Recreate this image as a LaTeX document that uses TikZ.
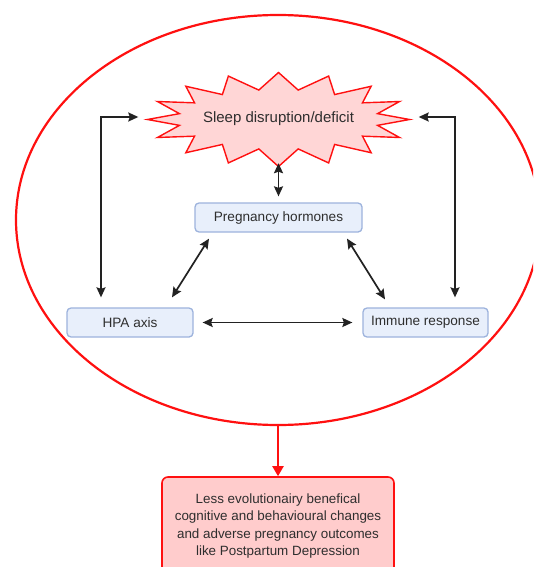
\documentclass[tikz,border=0pt]{standalone}
\usepackage{fontspec}
\setmainfont{Liberation Sans}
\usetikzlibrary{arrows.meta,shapes.geometric,calc}
\definecolor{txt}{HTML}{2E2E2E}
\definecolor{arr}{HTML}{222222}
\definecolor{bfill}{HTML}{E8EFFB}
\definecolor{bline}{HTML}{9DB3DD}
\definecolor{sfill}{HTML}{FFD6D6}
\definecolor{ofill}{HTML}{FFCCCC}
\definecolor{rline}{HTML}{FF1010}
\begin{document}
\begin{tikzpicture}[x=1pt,y=-1pt,
  bluebox/.style={draw=bline, fill=bfill, line width=1.3pt, rounded corners=4pt,
    minimum height=29pt, inner sep=0pt, text=txt, font=\fontsize{13.6}{16}\selectfont},
  outbox/.style={draw=rline, fill=ofill, line width=1.6pt, rounded corners=6pt,
    minimum width=232pt, minimum height=98pt, inner sep=0pt, align=center, text=txt,
    font=\fontsize{13.4}{17.5}\selectfont},
  dbl/.style={arr, line width=1.7pt, {Stealth[length=10pt,width=9pt,inset=1.5pt]}-{Stealth[length=10pt,width=9pt,inset=1.5pt]}},
  redarr/.style={rline, line width=2pt, -{Triangle[length=10pt,width=11pt]}}
]
\useasboundingbox (0,0) rectangle (533,567);
\clip (0,0) rectangle (533,567);
\fill[white] (0,0) rectangle (533,567);
% big ellipse
\node[ellipse, draw=rline, line width=2.2pt, minimum width=524pt, minimum height=410pt, inner sep=0pt] (big) at (278,220) {};
% starburst
\draw[rline, fill=sfill, line width=1.4pt, line join=miter]
  plot[samples=33, domain=0:32]
  ({278.5+(116+15*cos(\x*180))*cos(\x*11.25)}, {119.5+(38.5+8.5*cos(\x*180))*sin(\x*11.25)}) -- cycle;
\node[ellipse, minimum width=262pt, minimum height=94pt, inner sep=0pt, text=txt,
  font=\fontsize{15}{18}\selectfont] (sleep) at (278.5,119) {Sleep disruption/deficit};
% boxes
\node[bluebox, minimum width=167pt] (ph) at (278.5,217.5) {Pregnancy hormones};
\node[bluebox, minimum width=126pt] (hpa) at (130,322.5) {HPA axis};
\node[bluebox, minimum width=125pt] (imm) at (425.5,322.5) {Immune response};
\node[outbox] (out) at (278,526) {Less evolutionairy benefical\\cognitive and behavioural changes\\and adverse pregnancy outcomes\\like Postpartum Depression};
% connectors
\draw[dbl] ($(sleep.south)+(0,-3)$) -- ($(ph.north)+(0,-6)$);
\draw[dbl] ($(ph.south)+(-69.5,6)$) -- ($(hpa.north)+(42,-10)$);
\draw[dbl] ($(ph.south)+(68.5,6)$) -- ($(imm.north)+(-40.5,-8)$);
\draw[dbl] ($(hpa.east)+(9,0)$) -- ($(imm.west)+(-10,0)$);
\draw[dbl] ($(hpa.north)+(-29,-10)$) |- ($(sleep.west)+(-9,-2)$);
\draw[dbl] ($(imm.north)+(29.5,-10)$) |- ($(sleep.east)+(9,-2)$);
\draw[redarr] (big.south) -- (out.north);
\end{tikzpicture}
\end{document}
